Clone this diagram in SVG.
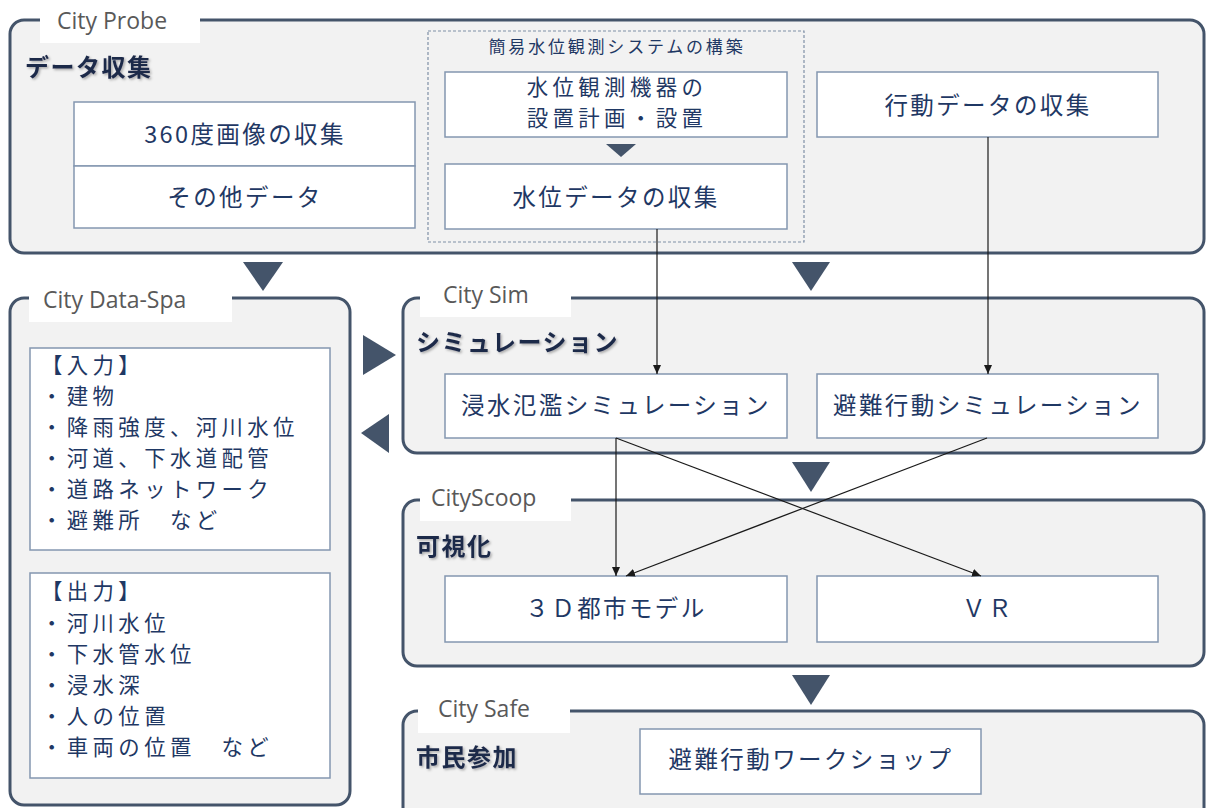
<svg xmlns="http://www.w3.org/2000/svg" width="1207" height="808" viewBox="0 0 1207 808">
<style>
.outer{fill:#f2f2f2;stroke:#44546a;stroke-width:3}
.lbl{fill:#ffffff;stroke:none}
.lbltxt{font-family:"Open Sans","Noto Sans",sans-serif;font-size:23px;fill:#595959}
.box{fill:#ffffff;stroke:#8497b0;stroke-width:1.5}
.t{font-family:"Noto Sans CJK JP","Noto Sans",sans-serif;font-size:23.5px;fill:#1f3864;letter-spacing:2.4px}
.l{font-family:"Noto Sans CJK JP","Noto Sans",sans-serif;font-size:21.4px;fill:#1f3864;letter-spacing:4.4px}
.c{text-anchor:middle}
.h{font-family:"Noto Sans CJK JP","Noto Sans",sans-serif;font-size:24px;font-weight:bold;fill:#1f2a4a;letter-spacing:1.5px}
.small{font-family:"Noto Sans CJK JP","Noto Sans",sans-serif;font-size:17px;fill:#1f3864;letter-spacing:2.8px}
.tri{fill:#44546a}
.conn{stroke:#1a1a1a;stroke-width:1.2;fill:none;marker-end:url(#ah)}
</style>
<defs>
<marker id="ah" markerWidth="10" markerHeight="10" refX="9" refY="5" orient="auto" markerUnits="userSpaceOnUse">
<path d="M0,1 L9,5 L0,9 Z" fill="#1a1a1a"/>
</marker>
<filter id="sh" x="-5%" y="-20%" width="110%" height="140%">
<feDropShadow dx="1.5" dy="1.5" stdDeviation="1" flood-color="#000000" flood-opacity="0.3"/>
</filter>
</defs>
<rect width="1207" height="808" fill="#ffffff"/>

<g id="cityprobe">
<rect class="outer" x="10" y="20" width="1194" height="233" rx="14"/>
<rect class="lbl" x="40" y="2" width="160" height="41"/>
<text class="lbltxt" x="57" y="29">City Probe</text>
<text class="h" x="25" y="76" filter="url(#sh)">データ収集</text>
</g>
<g id="img360">
<rect class="box" x="74" y="102" width="341" height="64"/>
<text class="t c" x="245" y="143">360度画像の収集</text>
</g>
<g id="otherdata">
<rect class="box" x="74" y="166" width="341" height="62"/>
<text class="t c" x="245" y="206">その他データ</text>
</g>
<g id="wlsystem">
<rect x="428" y="31" width="376" height="211" fill="none" stroke="#7f8fa6" stroke-width="1.2" stroke-dasharray="3,2"/>
<text class="small c" x="617" y="53">簡易水位観測システムの構築</text>
</g>
<g id="install">
<rect class="box" x="445" y="72" width="342" height="65"/>
<text class="l c" x="617" y="95">水位観測機器の</text>
<text class="l c" x="617" y="126">設置計画・設置</text>
<polygon class="tri" points="606,144 636,144 621,157"/>
</g>
<g id="wldata">
<rect class="box" x="445" y="164" width="342" height="65"/>
<text class="t c" x="616" y="206">水位データの収集</text>
</g>
<g id="behavior">
<rect class="box" x="817" y="72" width="341" height="65"/>
<text class="t c" x="988" y="114">行動データの収集</text>
</g>

<g id="dataspa">
<rect class="outer" x="10" y="298" width="340" height="507" rx="14"/>
<rect class="lbl" x="29" y="279" width="203" height="43"/>
<text class="lbltxt" x="43" y="308">City Data-Spa</text>
</g>
<g id="input">
<rect class="box" x="30" y="348" width="300" height="202"/>
<text class="l" x="41" y="373">【入力】</text>
<text class="l" x="41" y="404">・建物</text>
<text class="l" x="41" y="435">・降雨強度、河川水位</text>
<text class="l" x="41" y="466">・河道、下水道配管</text>
<text class="l" x="41" y="497">・道路ネットワーク</text>
<text class="l" x="41" y="528">・避難所　など</text>
</g>
<g id="output">
<rect class="box" x="30" y="573" width="300" height="205"/>
<text class="l" x="41" y="599">【出力】</text>
<text class="l" x="41" y="631">・河川水位</text>
<text class="l" x="41" y="662">・下水管水位</text>
<text class="l" x="41" y="693">・浸水深</text>
<text class="l" x="41" y="724">・人の位置</text>
<text class="l" x="41" y="755">・車両の位置　など</text>
</g>

<g id="citysim">
<rect class="outer" x="403" y="298" width="801" height="155" rx="14"/>
<rect class="lbl" x="420" y="276" width="151" height="41"/>
<text class="lbltxt" x="443" y="303">City Sim</text>
<text class="h" x="416" y="351" filter="url(#sh)">シミュレーション</text>
</g>
<g id="floodsim">
<rect class="box" x="445" y="374" width="342" height="64"/>
<text class="t c" x="616" y="414">浸水氾濫シミュレーション</text>
</g>
<g id="evacsim">
<rect class="box" x="817" y="374" width="341" height="64"/>
<text class="t c" x="988" y="414">避難行動シミュレーション</text>
</g>

<g id="cityscoop">
<rect class="outer" x="403" y="500" width="801" height="166" rx="14"/>
<rect class="lbl" x="420" y="478" width="151" height="43"/>
<text class="lbltxt" x="431" y="506">CityScoop</text>
<text class="h" x="416" y="555" filter="url(#sh)">可視化</text>
</g>
<g id="model3d">
<rect class="box" x="445" y="576" width="342" height="66"/>
<text class="t c" x="616" y="617">３Ｄ都市モデル</text>
</g>
<g id="vr">
<rect class="box" x="817" y="576" width="341" height="66"/>
<text class="t c" x="988" y="617">ＶＲ</text>
</g>

<g id="citysafe">
<rect class="outer" x="403" y="711" width="801" height="130" rx="14"/>
<rect class="lbl" x="418" y="690" width="152" height="43"/>
<text class="lbltxt" x="438" y="717">City Safe</text>
<text class="h" x="416" y="766" filter="url(#sh)">市民参加</text>
</g>
<g id="workshop">
<rect class="box" x="640" y="729" width="341" height="65"/>
<text class="t c" x="811" y="768">避難行動ワークショップ</text>
</g>

<g id="flow-triangles">
<polygon class="tri" points="243,262 283,262 263,291"/>
<polygon class="tri" points="792,262 830,262 811,291"/>
<polygon class="tri" points="363,335 396,355 363,375"/>
<polygon class="tri" points="389,414 389,453 361,433"/>
<polygon class="tri" points="792,462 830,462 811,492"/>
<polygon class="tri" points="792,675 830,675 811,705"/>
</g>

<g id="connectors">
<line class="conn" x1="657" y1="229" x2="657" y2="374"/>
<line class="conn" x1="988" y1="137" x2="988" y2="374"/>
<line class="conn" x1="616" y1="438" x2="616" y2="576"/>
<line class="conn" x1="616" y1="438" x2="981" y2="576"/>
<line class="conn" x1="987" y1="438" x2="626" y2="576"/>
</g>
</svg>
